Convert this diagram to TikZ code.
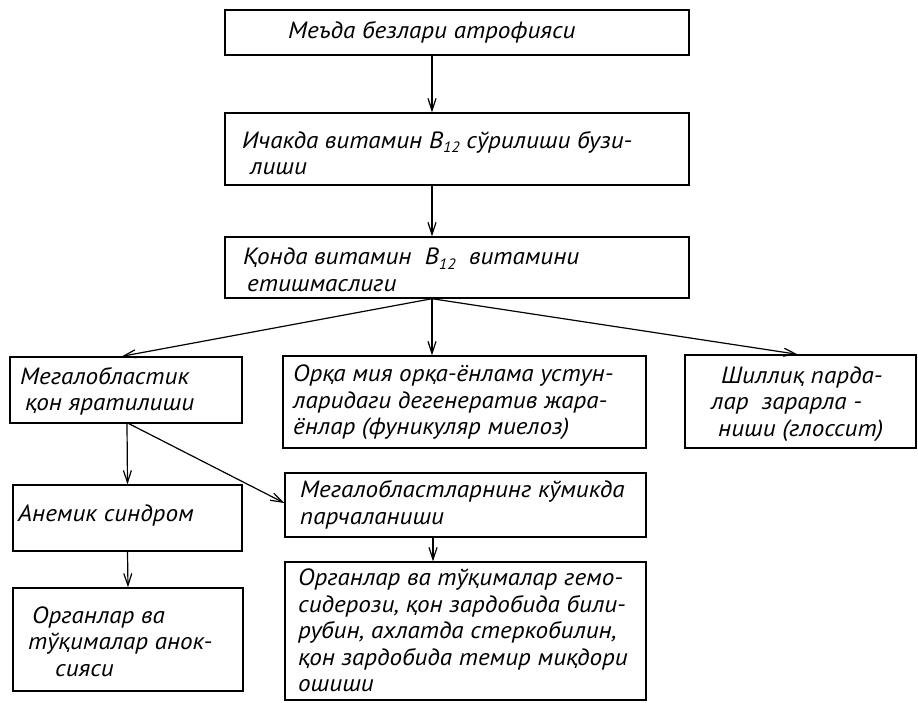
\documentclass[tikz,border=0pt]{standalone}
\usepackage{fontspec}
\setmainfont{PT Sans}[FakeStretch=1.07]
\usetikzlibrary{arrows.meta}
\newcommand\Bvit{B\raisebox{-0.35ex}{\fontsize{15}{15}\selectfont 12}}
\begin{document}
\begin{tikzpicture}[x=1pt,y=-1pt,
  box/.style={draw, line width=1.4pt, inner sep=0pt},
  lbl/.style={font=\itshape\fontsize{23.5}{26.5}\selectfont, align=left, inner sep=0pt, anchor=west},
  arr/.style={line width=1.2pt, -{Straight Barb[length=12pt,width=8pt,line width=1.2pt]}}]
\useasboundingbox (0,0) rectangle (918,702);
% boxes
\node[box, minimum width=464pt, minimum height=45pt] (b1) at (457,32.5) {};
\node[box, minimum width=464pt, minimum height=72pt] (b2) at (457,149) {};
\node[box, minimum width=464pt, minimum height=61pt] (b3) at (457,267.5) {};
\node[box, minimum width=232pt, minimum height=66pt] (meg) at (126,390) {};
\node[box, minimum width=363pt, minimum height=92pt] (orka) at (464.5,402) {};
\node[box, minimum width=231pt, minimum height=93pt] (shil) at (800.5,401.5) {};
\node[box, minimum width=229pt, minimum height=66pt] (anem) at (127.5,518) {};
\node[box, minimum width=361pt, minimum height=64pt] (megb) at (465.5,505) {};
\node[box, minimum width=230pt, minimum height=103pt] (organ) at (128,639.5) {};
\node[box, minimum width=361pt, minimum height=138pt] (hemo) at (465.5,631) {};
% texts
\node[lbl] (t1) at (288,32.5) {Меъда безлари атрофияси};
\node[lbl] (t2) at (242,153) {Ичакда витамин \Bvit\ сўрилиши бузи-\\\hspace{8pt}лиши};
\node[lbl] (t3) at (243,270) {Қонда витамин\ \ \Bvit\ \ витамини\\\hspace{4pt}етишмаслиги};
\node[lbl] (t4) at (20,391.5) {Мегалобластик\\\hspace{5pt}қон яратилиши};
\node[lbl] (t5) at (293,402.5) {Орқа мия орқа-ёнлама устун-\\ларидаги дегенератив жара-\\ёнлар (фуникуляр миелоз)};
\node[lbl] (t6) at (711,404) {\hspace{10pt}Шиллиқ парда-\\лар\ \ зарарла -\\\hspace{7pt}ниши (глоссит)};
\node[lbl] (t7) at (18,515) {Анемик синдром};
\node[lbl] (t8) at (300,505) {Мегалобластларнинг кўмикда\\парчаланиши};
\node[lbl] (t9) at (28,641.5) {\hspace{4pt}Органлар ва\\тўқималар анок-\\\hspace{27pt}сияси};
\node[lbl] (t10) at (298,630.5) {Органлар ва тўқималар гемо-\\сидерози, қон зардобида били-\\рубин, ахлатда стеркобилин,\\қон зардобида темир миқдори\\ошиши};
% connectors
\draw[arr] ([xshift=-25pt]b1.south) -- ([xshift=-25pt]b2.north);
\draw[arr] ([xshift=-25pt]b2.south) -- ([xshift=-25pt]b3.north);
\draw[arr] ([xshift=-25pt]b3.south) -- ([xshift=-4pt]meg.north);
\draw[arr] ([xshift=-25pt]b3.south) -- ([xshift=-32.5pt]orka.north);
\draw[arr] ([xshift=-25pt]b3.south) -- ([xshift=-3pt]shil.north);
\draw[arr] ([xshift=1pt]meg.south) -- (anem.north);
\draw[arr] ([xshift=3pt]meg.south) -- ([yshift=2pt]megb.west);
\draw[arr] (anem.south) -- (organ.north);
\draw[arr] ([xshift=-32.5pt]megb.south) -- ([xshift=-32.5pt]hemo.north);
\end{tikzpicture}
\end{document}
